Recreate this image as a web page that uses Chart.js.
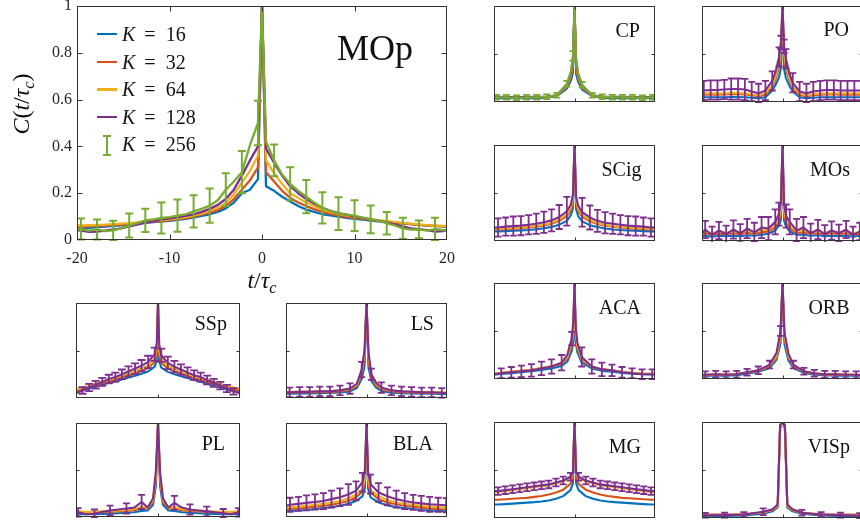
<!DOCTYPE html>
<html>
<head>
<meta charset="utf-8">
<script src="https://cdn.jsdelivr.net/npm/chart.js@4.4.1/dist/chart.umd.min.js"></script>
<style>
  html, body { margin: 0; padding: 0; background: #fff; }
  body { width: 860px; height: 522px; overflow: hidden; position: relative;
         font-family: 'Liberation Serif', 'Times New Roman', serif; color: #111; }
  canvas { position: absolute; }
  .lbl { position: absolute; white-space: nowrap; line-height: 1; }
  .lbl sub { font-size: 0.68em; vertical-align: -0.28em; line-height: 0; font-style: italic; }
</style>
</head>
<body>
<script>
// ---------------- data ----------------
const kValues = [16, 32, 64, 128, 256];
const mopXTicks = [-20, -10, 0, 10, 20];
const mopYTicks = [0, 0.2, 0.4, 0.6, 0.8, 1];

// MOp (large panel)
const mopT = [-20, -19.575, -18.705, -17.835, -16.965, -16.095, -15.225, -14.355, -13.485, -12.615, -11.745, -10.875, -10.005, -9.135, -8.265, -7.395, -6.525, -5.655, -4.785, -3.915, -3.045, -2.175, -1.305, -0.435, 0, 0.435, 1.305, 2.175, 3.045, 3.915, 4.785, 5.655, 6.525, 7.395, 8.265, 9.135, 10.005, 10.875, 11.745, 12.615, 13.485, 14.355, 15.225, 16.095, 16.965, 17.835, 18.705, 19.575, 20];
const mopK16 = [0.05, 0.05, 0.052, 0.055, 0.057, 0.06, 0.063, 0.066, 0.07, 0.073, 0.076, 0.079, 0.082, 0.086, 0.09, 0.096, 0.103, 0.11, 0.12, 0.135, 0.16, 0.2, 0.215, 0.26, 1.0, 0.23, 0.21, 0.185, 0.165, 0.145, 0.13, 0.12, 0.11, 0.105, 0.1, 0.095, 0.09, 0.087, 0.083, 0.08, 0.077, 0.074, 0.071, 0.068, 0.065, 0.062, 0.06, 0.058, 0.057];
const mopK32 = [0.055, 0.056, 0.058, 0.06, 0.062, 0.064, 0.066, 0.069, 0.072, 0.075, 0.078, 0.081, 0.085, 0.089, 0.094, 0.1, 0.108, 0.117, 0.128, 0.145, 0.175, 0.215, 0.255, 0.31, 1.0, 0.29, 0.25, 0.21, 0.18, 0.16, 0.145, 0.132, 0.12, 0.112, 0.105, 0.099, 0.094, 0.09, 0.086, 0.082, 0.078, 0.075, 0.071, 0.068, 0.065, 0.062, 0.06, 0.058, 0.057];
const mopK64 = [0.062, 0.062, 0.063, 0.064, 0.066, 0.068, 0.07, 0.072, 0.075, 0.078, 0.081, 0.084, 0.088, 0.092, 0.097, 0.104, 0.113, 0.124, 0.138, 0.158, 0.195, 0.245, 0.295, 0.36, 1.0, 0.34, 0.285, 0.24, 0.2, 0.18, 0.16, 0.145, 0.132, 0.12, 0.112, 0.105, 0.099, 0.094, 0.089, 0.085, 0.081, 0.077, 0.073, 0.07, 0.067, 0.064, 0.062, 0.06, 0.06];
const mopK128 = [0.042, 0.04, 0.035, 0.036, 0.04, 0.045, 0.05, 0.058, 0.066, 0.074, 0.08, 0.087, 0.092, 0.097, 0.103, 0.11, 0.12, 0.133, 0.15, 0.175, 0.215, 0.275, 0.34, 0.4, 1.0, 0.39, 0.33, 0.275, 0.23, 0.2, 0.175, 0.155, 0.138, 0.125, 0.115, 0.108, 0.1, 0.094, 0.088, 0.082, 0.075, 0.067, 0.058, 0.05, 0.046, 0.042, 0.036, 0.038, 0.043];
const mopK256 = [0.045, 0.047, 0.04, 0.045, 0.038, 0.041, 0.05, 0.062, 0.072, 0.084, 0.088, 0.094, 0.098, 0.104, 0.11, 0.122, 0.133, 0.147, 0.17, 0.215, 0.25, 0.29, 0.405, 0.5, 1.0, 0.42, 0.34, 0.28, 0.24, 0.21, 0.185, 0.16, 0.137, 0.125, 0.113, 0.108, 0.104, 0.096, 0.088, 0.082, 0.072, 0.062, 0.05, 0.044, 0.045, 0.04, 0.047, 0.042, 0.04];
const mopErr256 = [null, 0.045, null, 0.043, null, 0.041, null, 0.051, null, 0.05, null, 0.066, null, 0.069, null, 0.069, null, 0.073, null, 0.07, null, 0.09, null, 0.095, null, null, 0.068, null, 0.071, null, 0.071, null, 0.067, null, 0.07, null, 0.066, null, 0.059, null, 0.048, null, 0.045, null, 0.038, null, 0.048, null, null];

// CP
const cpT = [-20, -19.4, -16.9, -14.4, -11.9, -9.4, -6.9, -4.4, -1.9, -0.9, -0.4, 0, 0.4, 0.9, 1.9, 4.4, 6.9, 9.4, 11.9, 14.4, 16.9, 19.4, 20];
const cpK16 = [0.04, 0.04, 0.04, 0.04, 0.04, 0.04, 0.045, 0.06, 0.14, 0.22, 0.3, 1.0, 0.29, 0.21, 0.13, 0.06, 0.045, 0.04, 0.04, 0.04, 0.04, 0.04, 0.04];
const cpK32 = [0.05, 0.05, 0.05, 0.05, 0.05, 0.05, 0.05, 0.065, 0.16, 0.26, 0.37, 1.0, 0.36, 0.25, 0.15, 0.065, 0.05, 0.05, 0.05, 0.05, 0.05, 0.05, 0.05];
const cpK64 = [0.052, 0.052, 0.052, 0.05, 0.052, 0.052, 0.055, 0.068, 0.17, 0.28, 0.41, 1.0, 0.4, 0.27, 0.16, 0.068, 0.055, 0.052, 0.052, 0.05, 0.05, 0.052, 0.052];
const cpK128 = [0.055, 0.055, 0.055, 0.05, 0.055, 0.055, 0.058, 0.07, 0.18, 0.3, 0.44, 1.0, 0.43, 0.29, 0.17, 0.07, 0.058, 0.055, 0.055, 0.052, 0.05, 0.055, 0.055];
const cpK256 = [0.05, 0.05, 0.05, 0.045, 0.05, 0.05, 0.055, 0.07, 0.19, 0.32, 0.48, 1.0, 0.46, 0.3, 0.18, 0.07, 0.055, 0.05, 0.05, 0.05, 0.045, 0.05, 0.05];
const cpErr256 = [null, 0.025, 0.025, 0.025, 0.025, 0.025, 0.025, 0.025, 0.03, null, 0.05, null, null, null, 0.03, 0.025, 0.025, 0.025, 0.025, 0.025, 0.025, 0.025, null];

// PO
const poT = [-20, -19.55, -17.85, -16.15, -14.45, -12.75, -11.05, -9.35, -7.65, -5.95, -4.25, -2.55, -1.7, -0.85, -0.4, 0, 0.4, 0.85, 1.7, 2.55, 4.25, 5.95, 7.65, 9.35, 11.05, 12.75, 14.45, 16.15, 17.85, 19.55, 20];
const poK16 = [0.05, 0.05, 0.05, 0.05, 0.05, 0.052, 0.052, 0.05, 0.045, 0.04, 0.05, 0.12, 0.18, 0.26, 0.35, 1.0, 0.34, 0.25, 0.17, 0.11, 0.05, 0.04, 0.045, 0.05, 0.05, 0.05, 0.05, 0.05, 0.05, 0.05, 0.05];
const poK32 = [0.075, 0.075, 0.075, 0.075, 0.078, 0.08, 0.08, 0.078, 0.07, 0.06, 0.075, 0.15, 0.24, 0.36, 0.48, 1.0, 0.46, 0.34, 0.23, 0.14, 0.072, 0.06, 0.07, 0.075, 0.078, 0.078, 0.075, 0.075, 0.075, 0.075, 0.075];
const poK64 = [0.09, 0.09, 0.09, 0.09, 0.09, 0.095, 0.095, 0.09, 0.08, 0.07, 0.09, 0.17, 0.27, 0.4, 0.55, 1.0, 0.53, 0.38, 0.26, 0.16, 0.085, 0.07, 0.08, 0.09, 0.09, 0.09, 0.09, 0.09, 0.09, 0.09, 0.09];
const poK128 = [0.12, 0.12, 0.125, 0.125, 0.13, 0.135, 0.135, 0.13, 0.11, 0.09, 0.12, 0.22, 0.32, 0.47, 0.62, 1.0, 0.58, 0.45, 0.3, 0.2, 0.11, 0.09, 0.11, 0.12, 0.125, 0.125, 0.12, 0.12, 0.12, 0.12, 0.12];
const poErr128 = [null, 0.1, 0.1, 0.1, 0.1, 0.11, 0.11, 0.11, 0.1, 0.1, 0.1, 0.1, null, 0.1, 0.07, null, 0.07, 0.1, null, 0.1, 0.1, 0.1, 0.1, 0.1, 0.1, 0.1, 0.1, 0.1, 0.1, 0.1, null];

// SCig
const scigT = [-20, -19.0, -17.1, -15.2, -13.3, -11.4, -9.5, -7.6, -5.7, -3.8, -1.9, -0.9, -0.4, 0, 0.4, 0.9, 1.9, 3.8, 5.7, 7.6, 9.5, 11.4, 13.3, 15.2, 17.1, 19.0, 20];
const scigK16 = [0.1, 0.1, 0.103, 0.106, 0.11, 0.115, 0.122, 0.132, 0.147, 0.17, 0.21, 0.27, 0.34, 1.0, 0.33, 0.26, 0.205, 0.165, 0.145, 0.13, 0.12, 0.114, 0.11, 0.106, 0.103, 0.1, 0.1];
const scigK32 = [0.12, 0.12, 0.123, 0.127, 0.132, 0.14, 0.15, 0.162, 0.18, 0.21, 0.26, 0.32, 0.4, 1.0, 0.39, 0.31, 0.255, 0.205, 0.178, 0.16, 0.149, 0.14, 0.132, 0.127, 0.123, 0.12, 0.12];
const scigK64 = [0.125, 0.125, 0.13, 0.135, 0.14, 0.148, 0.158, 0.17, 0.19, 0.225, 0.28, 0.35, 0.44, 1.0, 0.43, 0.34, 0.27, 0.22, 0.185, 0.168, 0.156, 0.147, 0.14, 0.135, 0.13, 0.125, 0.125];
const scigK128 = [0.14, 0.14, 0.15, 0.155, 0.16, 0.17, 0.18, 0.195, 0.215, 0.25, 0.31, 0.38, 0.48, 1.0, 0.46, 0.37, 0.3, 0.245, 0.21, 0.19, 0.18, 0.17, 0.16, 0.155, 0.15, 0.14, 0.14];
const scigErr128 = [null, 0.095, 0.095, 0.1, 0.1, 0.1, 0.105, 0.11, 0.115, 0.125, 0.15, null, null, null, null, null, 0.15, 0.125, 0.115, 0.11, 0.105, 0.1, 0.1, 0.1, 0.095, 0.095, null];

// MOs
const mosT = [-20, -19.2, -17.5, -15.8, -14.0, -12.2, -10.5, -8.8, -7.0, -5.2, -3.5, -1.8, -0.9, -0.4, 0, 0.4, 0.9, 1.8, 3.5, 5.2, 7.0, 8.8, 10.5, 12.2, 14.0, 15.8, 17.5, 19.2, 20];
const mosK16 = [0.05, 0.055, 0.045, 0.055, 0.05, 0.055, 0.05, 0.06, 0.055, 0.065, 0.075, 0.11, 0.16, 0.22, 1.0, 0.21, 0.15, 0.1, 0.065, 0.065, 0.055, 0.06, 0.05, 0.055, 0.05, 0.055, 0.045, 0.055, 0.05];
const mosK32 = [0.07, 0.08, 0.065, 0.075, 0.07, 0.08, 0.07, 0.085, 0.075, 0.09, 0.1, 0.14, 0.2, 0.28, 1.0, 0.26, 0.19, 0.13, 0.085, 0.09, 0.075, 0.08, 0.07, 0.08, 0.07, 0.08, 0.065, 0.075, 0.07];
const mosK64 = [0.09, 0.1, 0.08, 0.1, 0.085, 0.1, 0.09, 0.11, 0.095, 0.115, 0.12, 0.17, 0.24, 0.33, 1.0, 0.31, 0.23, 0.16, 0.1, 0.11, 0.09, 0.1, 0.085, 0.1, 0.09, 0.1, 0.08, 0.09, 0.085];
const mosK128 = [0.08, 0.12, 0.06, 0.11, 0.07, 0.12, 0.08, 0.13, 0.09, 0.14, 0.13, 0.2, 0.28, 0.42, 1.0, 0.38, 0.26, 0.2, 0.11, 0.14, 0.08, 0.12, 0.07, 0.11, 0.08, 0.12, 0.06, 0.1, 0.07];
const mosErr128 = [null, 0.09, 0.09, 0.09, 0.09, 0.095, 0.095, 0.1, 0.1, 0.11, 0.12, 0.13, 0.12, null, null, null, 0.12, 0.13, 0.12, 0.11, 0.1, 0.1, 0.095, 0.095, 0.09, 0.09, 0.09, 0.09, null];

// ACA
const acaT = [-20, -18.2, -15.7, -13.2, -10.7, -8.2, -5.7, -3.2, -1.8, -0.7, -0.3, 0, 0.3, 0.7, 1.8, 4.3, 6.8, 9.3, 11.8, 14.3, 16.8, 19.3, 20];
const acaK16 = [0.045, 0.052, 0.06, 0.07, 0.08, 0.095, 0.11, 0.135, 0.18, 0.29, 0.39, 1.0, 0.38, 0.28, 0.17, 0.11, 0.085, 0.075, 0.062, 0.055, 0.05, 0.048, 0.047];
const acaK32 = [0.055, 0.065, 0.075, 0.085, 0.095, 0.113, 0.13, 0.155, 0.21, 0.34, 0.46, 1.0, 0.45, 0.32, 0.2, 0.125, 0.1, 0.088, 0.075, 0.065, 0.058, 0.055, 0.055];
const acaK64 = [0.055, 0.065, 0.075, 0.085, 0.095, 0.115, 0.135, 0.165, 0.23, 0.38, 0.52, 1.0, 0.5, 0.35, 0.21, 0.13, 0.1, 0.09, 0.075, 0.065, 0.058, 0.055, 0.055];
const acaK128 = [0.05, 0.06, 0.07, 0.08, 0.09, 0.11, 0.13, 0.17, 0.25, 0.42, 0.6, 1.0, 0.55, 0.38, 0.23, 0.13, 0.1, 0.09, 0.07, 0.06, 0.05, 0.05, 0.05];
const acaErr128 = [null, 0.05, 0.055, 0.06, 0.065, 0.07, 0.075, 0.08, null, 0.07, null, null, null, null, 0.1, 0.075, 0.07, 0.06, 0.055, 0.05, 0.05, 0.05, null];

// ORB
const orbT = [-20, -19.2, -16.6, -14.0, -11.4, -8.8, -6.0, -3.2, -1.5, -0.5, 0, 0.5, 1.5, 2.7, 5.3, 7.9, 10.5, 13.1, 15.7, 18.3, 20];
const orbK16 = [0.035, 0.035, 0.035, 0.035, 0.04, 0.055, 0.075, 0.115, 0.2, 0.37, 1.0, 0.36, 0.19, 0.115, 0.065, 0.045, 0.04, 0.035, 0.035, 0.035, 0.035];
const orbK32 = [0.04, 0.04, 0.045, 0.045, 0.05, 0.065, 0.085, 0.13, 0.22, 0.42, 1.0, 0.41, 0.22, 0.13, 0.075, 0.055, 0.045, 0.045, 0.045, 0.04, 0.04];
const orbK64 = [0.045, 0.045, 0.05, 0.05, 0.055, 0.07, 0.09, 0.14, 0.24, 0.46, 1.0, 0.45, 0.24, 0.14, 0.08, 0.06, 0.05, 0.05, 0.05, 0.045, 0.045];
const orbK128 = [0.045, 0.045, 0.05, 0.045, 0.05, 0.07, 0.09, 0.15, 0.27, 0.5, 1.0, 0.48, 0.26, 0.15, 0.08, 0.06, 0.05, 0.05, 0.045, 0.045, 0.04];
const orbErr128 = [null, 0.035, 0.035, 0.035, 0.035, 0.035, 0.04, 0.04, null, 0.05, null, null, null, 0.04, 0.035, 0.035, 0.035, 0.035, 0.035, 0.035, null];

// MG
const mgT = [-20, -19.0, -17.2, -15.4, -13.6, -11.8, -10.0, -8.2, -6.4, -4.6, -2.8, -1.0, -0.4, 0, 0.4, 1.0, 2.8, 4.6, 6.4, 8.2, 10.0, 11.8, 13.6, 15.4, 17.2, 19.0, 20];
const mgK16 = [0.14, 0.14, 0.145, 0.15, 0.155, 0.16, 0.165, 0.172, 0.182, 0.2, 0.228, 0.29, 0.36, 1.0, 0.36, 0.29, 0.228, 0.2, 0.182, 0.172, 0.165, 0.16, 0.155, 0.15, 0.145, 0.14, 0.14];
const mgK32 = [0.19, 0.19, 0.195, 0.2, 0.205, 0.21, 0.22, 0.23, 0.245, 0.265, 0.295, 0.355, 0.42, 1.0, 0.42, 0.355, 0.295, 0.265, 0.245, 0.23, 0.22, 0.21, 0.205, 0.2, 0.195, 0.19, 0.19];
const mgK64 = [0.27, 0.27, 0.28, 0.29, 0.3, 0.31, 0.32, 0.33, 0.34, 0.36, 0.38, 0.42, 0.46, 1.0, 0.46, 0.42, 0.38, 0.36, 0.34, 0.33, 0.32, 0.31, 0.3, 0.29, 0.28, 0.27, 0.27];
const mgK128 = [0.28, 0.28, 0.29, 0.3, 0.31, 0.32, 0.33, 0.34, 0.35, 0.37, 0.39, 0.43, 0.48, 1.0, 0.48, 0.43, 0.39, 0.37, 0.35, 0.34, 0.33, 0.32, 0.31, 0.3, 0.29, 0.28, 0.28];
const mgErr128 = [null, 0.04, 0.04, 0.04, 0.04, 0.04, 0.04, 0.04, 0.04, 0.04, 0.04, 0.04, null, null, null, 0.04, 0.04, 0.04, 0.04, 0.04, 0.04, 0.04, 0.04, 0.04, 0.04, 0.04, null];

// VISp
const vispT = [-20, -19.2, -14.4, -9.6, -4.8, -2.5, -1.2, -0.6, 0, 0.6, 1.2, 2.5, 4.8, 9.6, 14.4, 19.2, 20];
const vispK16 = [0.02, 0.02, 0.022, 0.026, 0.045, 0.07, 0.11, 0.93, 1.0, 0.93, 0.11, 0.07, 0.045, 0.026, 0.022, 0.02, 0.02];
const vispK32 = [0.035, 0.035, 0.035, 0.038, 0.058, 0.08, 0.12, 0.94, 1.0, 0.94, 0.12, 0.08, 0.052, 0.038, 0.035, 0.035, 0.035];
const vispK64 = [0.03, 0.03, 0.032, 0.036, 0.06, 0.085, 0.13, 0.95, 1.0, 0.95, 0.13, 0.085, 0.055, 0.036, 0.032, 0.03, 0.03];
const vispK128 = [0.025, 0.028, 0.03, 0.035, 0.065, 0.09, 0.14, 0.97, 1.0, 0.97, 0.14, 0.09, 0.055, 0.035, 0.03, 0.025, 0.025];
const vispErr128 = [null, 0.025, 0.025, 0.025, 0.035, null, null, null, null, null, null, null, 0.03, 0.025, 0.025, 0.025, null];

// SSp
const sspT = [-20, -18.4, -16.8, -15.2, -13.6, -12.0, -10.4, -8.8, -7.2, -5.6, -4.0, -2.4, -0.8, -0.3, 0, 0.3, 0.8, 2.4, 4.0, 5.6, 7.2, 8.8, 10.4, 12.0, 13.6, 15.2, 16.8, 18.4, 20];
const sspK16 = [0.06, 0.08, 0.1, 0.12, 0.14, 0.16, 0.175, 0.195, 0.215, 0.235, 0.255, 0.28, 0.33, 0.4, 1.0, 0.39, 0.32, 0.275, 0.25, 0.23, 0.21, 0.19, 0.17, 0.15, 0.13, 0.11, 0.09, 0.075, 0.065];
const sspK32 = [0.075, 0.095, 0.115, 0.135, 0.155, 0.175, 0.195, 0.215, 0.24, 0.26, 0.285, 0.315, 0.38, 0.47, 1.0, 0.46, 0.37, 0.31, 0.28, 0.255, 0.235, 0.21, 0.19, 0.17, 0.15, 0.13, 0.11, 0.09, 0.08];
const sspK64 = [0.09, 0.11, 0.13, 0.15, 0.17, 0.19, 0.21, 0.235, 0.26, 0.285, 0.31, 0.345, 0.42, 0.52, 1.0, 0.5, 0.41, 0.34, 0.305, 0.28, 0.255, 0.23, 0.21, 0.19, 0.17, 0.15, 0.13, 0.11, 0.1];
const sspK128 = [0.05, 0.08, 0.11, 0.14, 0.17, 0.2, 0.22, 0.25, 0.28, 0.31, 0.34, 0.38, 0.46, 0.58, 1.0, 0.56, 0.45, 0.37, 0.33, 0.3, 0.27, 0.24, 0.22, 0.19, 0.16, 0.13, 0.1, 0.07, 0.05];
const sspErr128 = [null, 0.035, 0.038, 0.04, 0.042, 0.045, 0.048, 0.05, 0.052, 0.055, 0.06, 0.065, 0.07, null, null, null, 0.07, 0.065, 0.06, 0.055, 0.052, 0.05, 0.048, 0.045, 0.042, 0.04, 0.038, 0.035, null];

// LS
const lsT = [-20, -19.1, -16.6, -14.1, -11.6, -9.1, -6.6, -4.1, -2.4, -1.2, -0.5, 0, 0.5, 1.2, 2.4, 3.7, 6.2, 8.7, 11.2, 13.7, 16.2, 18.7, 20];
const lsK16 = [0.045, 0.045, 0.047, 0.047, 0.05, 0.052, 0.058, 0.07, 0.105, 0.2, 0.33, 1.0, 0.32, 0.18, 0.11, 0.075, 0.056, 0.05, 0.047, 0.045, 0.044, 0.043, 0.042];
const lsK32 = [0.055, 0.055, 0.058, 0.058, 0.06, 0.062, 0.07, 0.085, 0.125, 0.25, 0.4, 1.0, 0.39, 0.21, 0.13, 0.09, 0.068, 0.06, 0.057, 0.055, 0.053, 0.052, 0.05];
const lsK64 = [0.065, 0.065, 0.068, 0.068, 0.07, 0.072, 0.08, 0.095, 0.14, 0.28, 0.45, 1.0, 0.44, 0.24, 0.15, 0.1, 0.078, 0.07, 0.066, 0.064, 0.062, 0.06, 0.06];
const lsK128 = [0.06, 0.06, 0.065, 0.065, 0.07, 0.07, 0.08, 0.1, 0.15, 0.3, 0.5, 1.0, 0.48, 0.25, 0.16, 0.11, 0.08, 0.07, 0.065, 0.06, 0.06, 0.055, 0.05];
const lsErr128 = [null, 0.05, 0.05, 0.05, 0.05, 0.05, 0.05, 0.055, null, 0.08, null, null, null, 0.06, null, 0.055, 0.05, 0.05, 0.05, 0.05, 0.05, 0.05, null];

// PL
const plT = [-20, -19.5, -17.5, -15.5, -13.5, -11.7, -9.7, -7.7, -5.8, -4.0, -2.5, -1.2, -0.5, 0, 0.5, 1.2, 2.5, 4.0, 5.8, 7.8, 9.8, 11.9, 13.9, 15.9, 17.8, 19.6, 20];
const plK16 = [0.03, 0.03, 0.03, 0.03, 0.032, 0.035, 0.04, 0.045, 0.05, 0.065, 0.07, 0.13, 0.34, 1.0, 0.33, 0.13, 0.07, 0.063, 0.05, 0.045, 0.04, 0.035, 0.032, 0.03, 0.03, 0.03, 0.03];
const plK32 = [0.05, 0.05, 0.048, 0.048, 0.05, 0.055, 0.06, 0.065, 0.072, 0.09, 0.09, 0.16, 0.4, 1.0, 0.39, 0.16, 0.09, 0.088, 0.072, 0.064, 0.058, 0.053, 0.05, 0.048, 0.048, 0.05, 0.05];
const plK64 = [0.06, 0.06, 0.055, 0.055, 0.06, 0.065, 0.07, 0.075, 0.085, 0.11, 0.1, 0.18, 0.45, 1.0, 0.44, 0.18, 0.1, 0.105, 0.085, 0.075, 0.068, 0.062, 0.058, 0.055, 0.055, 0.06, 0.06];
const plK128 = [0.05, 0.05, 0.03, 0.035, 0.055, 0.07, 0.08, 0.09, 0.1, 0.16, 0.1, 0.2, 0.5, 1.0, 0.48, 0.2, 0.1, 0.15, 0.1, 0.08, 0.07, 0.06, 0.05, 0.04, 0.03, 0.05, 0.05];
const plErr128 = [null, 0.045, null, 0.045, null, 0.05, null, 0.055, null, 0.075, null, null, null, null, null, null, null, 0.075, null, 0.055, null, 0.05, null, 0.045, null, 0.045, null];

// BLA
const blaT = [-20, -19.0, -16.9, -14.9, -12.8, -10.7, -8.7, -6.6, -4.5, -2.6, -1.0, -0.4, 0, 0.4, 1.0, 3.0, 5.2, 7.4, 9.5, 11.6, 13.6, 15.7, 17.8, 19.8, 20];
const blaK16 = [0.06, 0.065, 0.07, 0.075, 0.085, 0.095, 0.105, 0.12, 0.14, 0.17, 0.22, 0.31, 1.0, 0.3, 0.21, 0.155, 0.125, 0.105, 0.095, 0.085, 0.075, 0.07, 0.065, 0.06, 0.06];
const blaK32 = [0.08, 0.085, 0.09, 0.1, 0.11, 0.12, 0.13, 0.15, 0.17, 0.21, 0.27, 0.37, 1.0, 0.36, 0.26, 0.19, 0.155, 0.135, 0.12, 0.11, 0.1, 0.09, 0.085, 0.08, 0.08];
const blaK64 = [0.1, 0.105, 0.11, 0.12, 0.13, 0.14, 0.155, 0.17, 0.2, 0.24, 0.3, 0.42, 1.0, 0.4, 0.29, 0.22, 0.18, 0.155, 0.14, 0.13, 0.12, 0.11, 0.105, 0.1, 0.1];
const blaK128 = [0.12, 0.13, 0.14, 0.15, 0.16, 0.17, 0.19, 0.21, 0.24, 0.28, 0.37, 0.5, 1.0, 0.48, 0.35, 0.26, 0.22, 0.19, 0.17, 0.155, 0.145, 0.135, 0.13, 0.125, 0.125];
const blaErr128 = [null, 0.075, 0.075, 0.08, 0.08, 0.085, 0.09, 0.095, 0.11, 0.1, 0.1, null, null, null, 0.1, 0.1, 0.095, 0.09, 0.085, 0.08, 0.08, 0.08, 0.075, 0.075, null];

// ---------------- styling ----------------
const FONT = "'Liberation Serif', 'Times New Roman', serif";
const AXIS_COLOR = '#333333';
const COLORS = { 16: '#0072BD', 32: '#D95319', 64: '#EDB120', 128: '#7E2F8E', 256: '#77AC30' };

// Error bars, drawn right after the dataset they belong to so layering follows the series order.
const errorBarPlugin = {
  id: 'errbars',
  afterDatasetDraw(chart, args, opts) {
    const ds = chart.data.datasets[args.index];
    if (!ds.errors) return;
    const { ctx, chartArea: a, scales: { x, y } } = chart;
    const half = (opts.cap || 6) / 2;
    ctx.save();
    ctx.beginPath();
    ctx.rect(a.left, a.top - 1, a.right - a.left, a.bottom - a.top + 2);
    ctx.clip();
    ctx.strokeStyle = ds.borderColor;
    ctx.lineWidth = opts.width || 1.5;
    ctx.beginPath();
    ds.data.forEach((p, j) => {
      const e = ds.errors[j];
      if (e == null) return;
      const px = x.getPixelForValue(p.x);
      const yTop = y.getPixelForValue(p.y + e);
      const yBot = y.getPixelForValue(p.y - e);
      ctx.moveTo(px, yBot); ctx.lineTo(px, yTop);
      ctx.moveTo(px - half, yTop); ctx.lineTo(px + half, yTop);
      ctx.moveTo(px - half, yBot); ctx.lineTo(px + half, yBot);
    });
    ctx.stroke();
    ctx.restore();
  }
};

// Box around the plot area with inward-pointing ticks on all four sides.
const framePlugin = {
  id: 'frame',
  afterDraw(chart, args, opts) {
    const { ctx, chartArea: a, scales: { x, y } } = chart;
    const L = Math.round(a.left) + 0.5, R = Math.round(a.right) - 0.5;
    const T = Math.round(a.top) + 0.5, B = Math.round(a.bottom) - 0.5;
    const len = opts.len || 3;
    ctx.save();
    ctx.strokeStyle = AXIS_COLOR;
    ctx.lineWidth = 1;
    ctx.strokeRect(L, T, R - L, B - T);
    ctx.beginPath();
    (opts.xTicks || []).forEach(v => {
      const px = Math.round(x.getPixelForValue(v)) + 0.5;
      ctx.moveTo(px, B); ctx.lineTo(px, B - len);
      ctx.moveTo(px, T); ctx.lineTo(px, T + len);
    });
    (opts.yTicks || []).forEach(v => {
      const py = Math.round(y.getPixelForValue(v)) + 0.5;
      ctx.moveTo(L, py); ctx.lineTo(L + len, py);
      ctx.moveTo(R, py); ctx.lineTo(R - len, py);
    });
    ctx.stroke();
    ctx.restore();
  }
};
Chart.register(errorBarPlugin, framePlugin);
Chart.defaults.font.family = FONT;

function addCanvas(left, top, w, h) {
  const c = document.createElement('canvas');
  c.width = w; c.height = h;
  c.style.left = left + 'px'; c.style.top = top + 'px';
  c.style.width = w + 'px'; c.style.height = h + 'px';
  document.body.appendChild(c);
  return c;
}

function buildDatasets(t, series, err, lineWidth) {
  return series.map(([k, vals], i) => ({
    label: 'K = ' + k,
    data: t.map((x, j) => ({ x: x, y: vals[j] })),
    borderColor: COLORS[k],
    borderWidth: lineWidth,
    borderJoinStyle: 'round',
    pointRadius: 0,
    tension: 0,
    fill: false,
    order: series.length - i,
    errors: (err && err[0] === k) ? err[1] : null
  }));
}

function addLabel(html, rightX, baseline, size) {
  const d = document.createElement('div');
  d.className = 'lbl';
  d.style.fontSize = size + 'px';
  d.style.width = '200px';
  d.style.textAlign = 'right';
  d.style.left = (rightX - 200) + 'px';
  d.style.top = (baseline - 0.8375 * size) + 'px';
  d.innerHTML = html;
  document.body.appendChild(d);
}

// ---------------- large MOp panel ----------------
(function () {
  const pad = { left: 0, top: 6, right: 13, bottom: 0 };
  const canvas = addCanvas(0, 0, 460, 275);
  const series = [[16, mopK16], [32, mopK32], [64, mopK64], [128, mopK128], [256, mopK256]];
  new Chart(canvas, {
    type: 'line',
    data: { datasets: buildDatasets(mopT, series, [256, mopErr256], 2.3) },
    options: {
      responsive: false, animation: false, events: [],
      layout: { padding: pad },
      plugins: {
        legend: { display: false }, tooltip: { enabled: false },
        errbars: { width: 2, cap: 8 },
        frame: { xTicks: [-10, 0, 10], yTicks: [0.2, 0.4, 0.6, 0.8], len: 5 }
      },
      scales: {
        x: {
          type: 'linear', min: -20, max: 20,
          grid: { display: false, drawTicks: false }, border: { display: false },
          afterBuildTicks: s => { s.ticks = mopXTicks.map(v => ({ value: v })); },
          afterFit: s => { s.height = 35; s.paddingLeft = 0; s.paddingRight = 0; },
          ticks: { padding: 9, color: '#262626', font: { size: 16 }, maxRotation: 0, autoSkip: false,
                   callback: v => String(v) }
        },
        y: {
          type: 'linear', min: 0, max: 1,
          grid: { display: false, drawTicks: false }, border: { display: false },
          afterBuildTicks: s => { s.ticks = mopYTicks.map(v => ({ value: v })); },
          afterFit: s => { s.width = 77; s.paddingTop = 0; s.paddingBottom = 0; },
          ticks: { padding: 5, color: '#262626', font: { size: 16 }, autoSkip: false,
                   callback: v => String(v) }
        }
      }
    }
  });
})();

// ---------------- small region panels ----------------
const panels = [
  { name: 'CP',   box: [494, 6, 655, 102],   t: cpT,   s: [cpK16, cpK32, cpK64, cpK128, cpK256], err: [256, cpErr256], lab: [640, 36.5] },
  { name: 'PO',   box: [702, 6, 863, 102],   t: poT,   s: [poK16, poK32, poK64, poK128], err: [128, poErr128], lab: [849, 36] },
  { name: 'SCig', box: [494, 145, 655, 241], t: scigT, s: [scigK16, scigK32, scigK64, scigK128], err: [128, scigErr128], lab: [641.5, 176] },
  { name: 'MOs',  box: [702, 145, 863, 241], t: mosT,  s: [mosK16, mosK32, mosK64, mosK128], err: [128, mosErr128], lab: [850, 176] },
  { name: 'ACA',  box: [494, 283, 655, 379], t: acaT,  s: [acaK16, acaK32, acaK64, acaK128], err: [128, acaErr128], lab: [641, 313.5] },
  { name: 'ORB',  box: [702, 283, 863, 379], t: orbT,  s: [orbK16, orbK32, orbK64, orbK128], err: [128, orbErr128], lab: [849.5, 313.5] },
  { name: 'MG',   box: [494, 422, 655, 518], t: mgT,   s: [mgK16, mgK32, mgK64, mgK128], err: [128, mgErr128], lab: [641, 452.5] },
  { name: 'VISp', box: [702, 422, 863, 518], t: vispT, s: [vispK16, vispK32, vispK64, vispK128], err: [128, vispErr128], lab: [850, 452.5] },
  { name: 'SSp',  box: [76, 303, 240, 398],  t: sspT,  s: [sspK16, sspK32, sspK64, sspK128], err: [128, sspErr128], lab: [227, 330], cap: 8 },
  { name: 'LS',   box: [286, 303, 447, 398], t: lsT,   s: [lsK16, lsK32, lsK64, lsK128], err: [128, lsErr128], lab: [434, 330] },
  { name: 'PL',   box: [76, 423, 240, 517],  t: plT,   s: [plK16, plK32, plK64, plK128], err: [128, plErr128], lab: [225, 450] },
  { name: 'BLA',  box: [286, 423, 447, 517], t: blaT,  s: [blaK16, blaK32, blaK64, blaK128], err: [128, blaErr128], lab: [433, 450] }
];

panels.forEach(p => {
  const m = 3;
  const [x0, y0, x1, y1] = p.box;
  const canvas = addCanvas(x0 - m, y0 - m, x1 - x0 + 2 * m, y1 - y0 + 2 * m);
  const series = p.s.map((vals, i) => [kValues[i], vals]);
  new Chart(canvas, {
    type: 'line',
    data: { datasets: buildDatasets(p.t, series, p.err, 2.1) },
    options: {
      responsive: false, animation: false, events: [],
      layout: { padding: m },
      plugins: {
        legend: { display: false }, tooltip: { enabled: false },
        errbars: { width: 1.8, cap: p.cap || 7 },
        frame: { xTicks: [0], yTicks: [0.5], len: 3 }
      },
      scales: {
        x: { type: 'linear', min: -20, max: 20, display: false },
        y: { type: 'linear', min: 0, max: 1, display: false }
      }
    }
  });
  addLabel(p.name, p.lab[0], p.lab[1], 20);
});

// ---------------- text: panel name, axis titles, legend ----------------
addLabel('MOp', 413, 60, 36);

(function () {
  const xt = document.createElement('div');
  xt.className = 'lbl';
  xt.style.fontSize = '24px';
  xt.style.left = '212px'; xt.style.width = '100px'; xt.style.textAlign = 'center';
  xt.style.top = (288 - 0.8375 * 24) + 'px';
  xt.innerHTML = '<i>t</i>/<i>τ</i><sub>c</sub>';
  document.body.appendChild(xt);

  const yt = document.createElement('div');
  yt.className = 'lbl';
  yt.style.fontSize = '24px';
  yt.style.left = '21px'; yt.style.top = '104px';
  yt.style.transform = 'translate(-50%, -50%) rotate(-90deg)';
  yt.innerHTML = '<i>C</i>(<i>t</i>/<i>τ</i><sub>c</sub>)';
  document.body.appendChild(yt);
})();

(function () {
  const rowY = [34, 62, 89.5, 117, 144.5];
  kValues.forEach((k, i) => {
    const cy = rowY[i];
    const col = COLORS[k];
    if (k === 256) {
      // error-bar glyph
      const v = document.createElement('div');
      v.style.cssText = `position:absolute;left:106px;top:${cy - 10}px;width:2px;height:20px;background:${col};`;
      document.body.appendChild(v);
      [cy - 10, cy + 9].forEach(yy => {
        const c = document.createElement('div');
        c.style.cssText = `position:absolute;left:103px;top:${yy}px;width:8px;height:2px;background:${col};`;
        document.body.appendChild(c);
      });
    } else {
      const sw = document.createElement('div');
      sw.style.cssText = `position:absolute;left:97px;top:${cy - 1.1}px;width:20px;height:2.2px;background:${col};`;
      document.body.appendChild(sw);
    }
    const t = document.createElement('div');
    t.className = 'lbl';
    t.style.fontSize = '20px';
    t.style.left = '122px';
    t.style.top = (cy + 6.7 - 0.8375 * 20) + 'px';
    t.innerHTML = '<i>K</i><span style="margin:0 10px 0 9px">=</span>' + k;
    document.body.appendChild(t);
  });
})();
</script>
</body>
</html>
